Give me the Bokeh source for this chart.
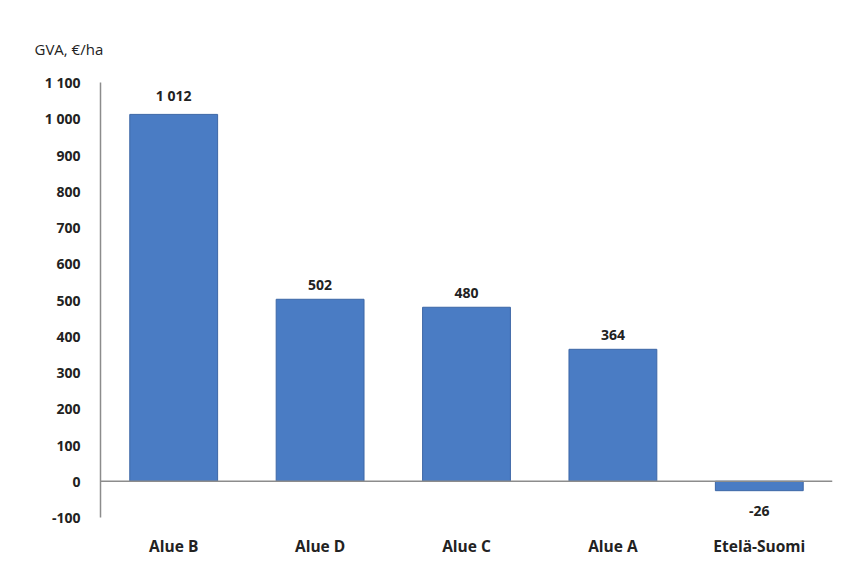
from bokeh.plotting import figure
from bokeh.models import FixedTicker, Span, Title, ColumnDataSource
from bokeh.embed import file_html
from bokeh.resources import INLINE
from bokeh.core.properties import value

categories = ["Alue B", "Alue D", "Alue C", "Alue A", "Etelä-Suomi"]
values = [1012, 502, 480, 364, -26]
value_labels = ["1 012", "502", "480", "364", "-26"]
y_ticks = [-100, 0, 100, 200, 300, 400, 500, 600, 700, 800, 900, 1000, 1100]
y_tick_labels = ["-100", "0", "100", "200", "300", "400", "500", "600", "700", "800", "900", "1 000", "1 100"]
y_title = "GVA, €/ha"

FONT = "Open Sans"

p = figure(x_range=categories, y_range=(-100, 1100), width=836, height=559,
           output_backend="svg", toolbar_location=None,
           min_border_left=100, min_border_right=4, min_border_top=82, min_border_bottom=40)
p.outline_line_color = None
p.xgrid.grid_line_color = None
p.ygrid.grid_line_color = None
p.background_fill_color = "white"
p.border_fill_color = "white"

src = ColumnDataSource(dict(x=categories, top=values, lab=value_labels))
p.vbar(x="x", top="top", bottom=0, width=0.6, source=src,
       fill_color="#4a7cc4", line_color="#3d67a6", line_width=1)

src_pos = ColumnDataSource(dict(x=[c for c, v in zip(categories, values) if v >= 0],
                                y=[v for v in values if v >= 0],
                                t=[l for l, v in zip(value_labels, values) if v >= 0]))
src_neg = ColumnDataSource(dict(x=[c for c, v in zip(categories, values) if v < 0],
                                y=[v for v in values if v < 0],
                                t=[l for l, v in zip(value_labels, values) if v < 0]))
p.text(x="x", y="y", text="t", source=src_pos, text_align="center", text_baseline="bottom",
       y_offset=-9, text_font=value(FONT), text_font_size="14px", text_font_style="bold",
       text_color="#222222")
p.text(x="x", y="y", text="t", source=src_neg, text_align="center", text_baseline="top",
       y_offset=15, text_font=value(FONT), text_font_size="14px", text_font_style="bold",
       text_color="#222222")

p.add_layout(Span(location=0, dimension="width", line_color="#8c8c8c", line_width=1.5))

p.yaxis.ticker = FixedTicker(ticks=y_ticks)
p.yaxis.major_label_overrides = {t: l for t, l in zip(y_ticks, y_tick_labels)}
p.yaxis.major_tick_line_color = None
p.yaxis.minor_tick_line_color = None
p.yaxis.axis_line_color = "#8c8c8c"
p.yaxis.axis_line_width = 1.5
p.yaxis.major_label_text_font = FONT
p.yaxis.major_label_text_font_size = "14px"
p.yaxis.major_label_text_font_style = "bold"
p.yaxis.major_label_text_color = "#222222"
p.yaxis.major_label_standoff = 14

p.xaxis.axis_line_color = None
p.xaxis.major_tick_line_color = None
p.xaxis.minor_tick_line_color = None
p.xaxis.major_label_text_font = FONT
p.xaxis.major_label_text_font_size = "15.5px"
p.xaxis.major_label_text_font_style = "bold"
p.xaxis.major_label_text_color = "#222222"
p.xaxis.major_label_standoff = 11

p.add_layout(Title(text=y_title, align="left", offset=-66, standoff=48,
                   text_font=FONT, text_font_size="15px", text_font_style="normal",
                   text_color="#222222"), "above")

open("out.html", "w").write(file_html(p, INLINE))
